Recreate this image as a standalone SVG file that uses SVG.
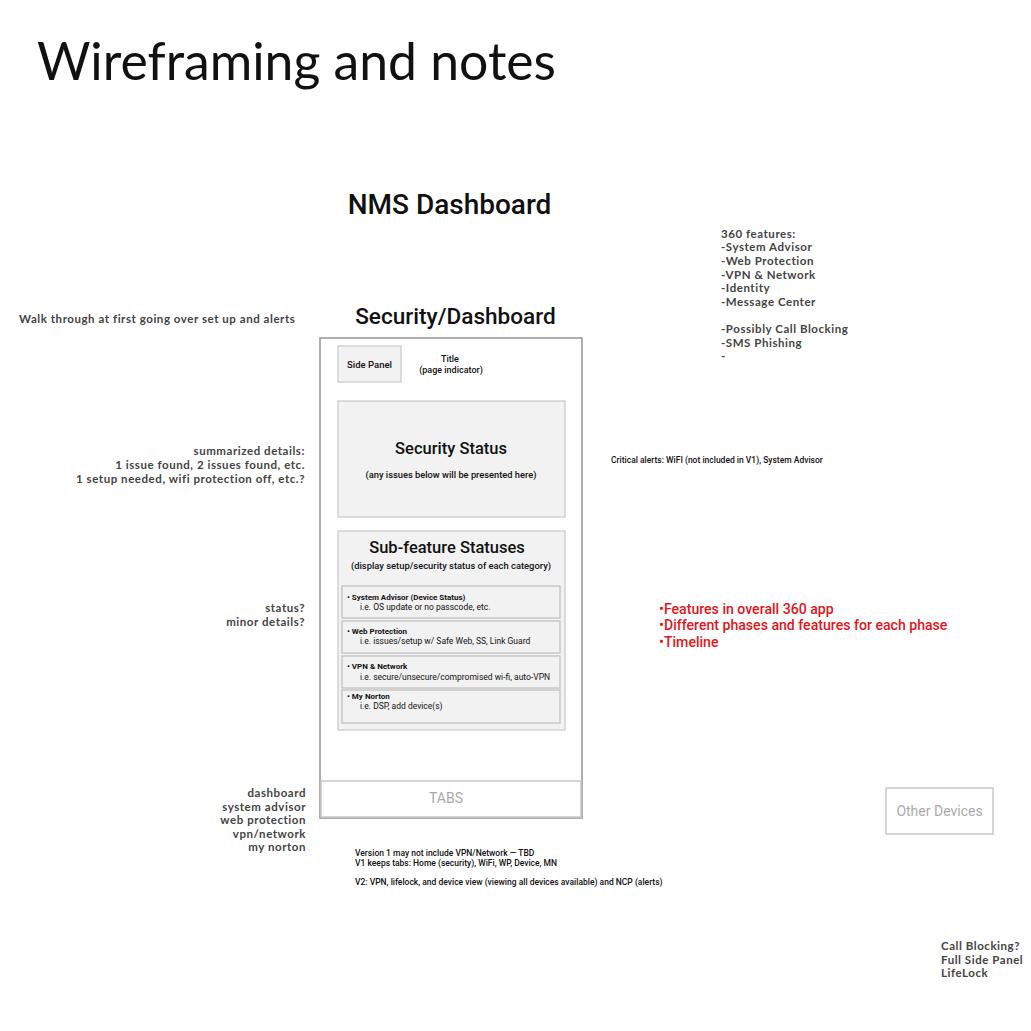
<svg xmlns="http://www.w3.org/2000/svg" width="1031" height="1031" viewBox="0 0 1031 1031">
<style>
.rb{font-family:Roboto,"Liberation Sans",sans-serif;fill:#111}
.note{font-family:Lato,"Liberation Sans",sans-serif;font-weight:700;font-size:11.5px;fill:#444;letter-spacing:0.55px}
.box{fill:#f2f2f2;stroke:#c8c8c8;stroke-width:1.2}
.item{fill:#f2f2f2;stroke:#c8c8c8;stroke-width:1.5}
.ib{font-family:Roboto,"Liberation Sans",sans-serif;font-weight:700;font-size:8px;fill:#111}
.it{font-family:Roboto,"Liberation Sans",sans-serif;font-size:8.5px;fill:#111}
.small{font-family:Roboto,"Liberation Sans",sans-serif;font-weight:500;font-size:8.5px;fill:#111}
.red{font-family:Roboto,"Liberation Sans",sans-serif;font-weight:500;font-size:14.1px;fill:#e0161c}
</style>
<rect width="1031" height="1031" fill="#ffffff"/>
<text x="37" y="80" font-family="Lato,'Liberation Sans',sans-serif" font-size="52" textLength="519" lengthAdjust="spacingAndGlyphs" fill="#111">Wireframing and notes</text>
<text x="449.5" y="214" text-anchor="middle" class="rb" font-size="28" font-weight="500">NMS Dashboard</text>
<text x="455.5" y="324" text-anchor="middle" class="rb" font-size="22.6" font-weight="500">Security/Dashboard</text>

<g id="phone">
<rect x="320" y="338" width="262" height="480" fill="#fff" stroke="#9a9a9a" stroke-width="1.6"/>
</g>
<g id="side-panel">
<rect x="338" y="346" width="63" height="36" class="box"/>
<text x="369.5" y="368" text-anchor="middle" class="rb" font-size="9.5" font-weight="500">Side Panel</text>
</g>
<g id="title">
<text x="450" y="362" text-anchor="middle" class="rb" font-size="9" font-weight="500">Title</text>
<text x="451" y="373" text-anchor="middle" class="rb" font-size="9" font-weight="500">(page indicator)</text>
</g>
<g id="security-status">
<rect x="338" y="401" width="227" height="116" class="box"/>
<text x="451" y="454" text-anchor="middle" class="rb" font-size="16.5" font-weight="500">Security Status</text>
<text x="451" y="478" text-anchor="middle" class="rb" font-size="9.3" font-weight="500">(any issues below will be presented here)</text>
</g>
<g id="sub-feature">
<rect x="338" y="531" width="227" height="199" class="box"/>
<text x="447" y="553" text-anchor="middle" class="rb" font-size="16.5" font-weight="500">Sub-feature Statuses</text>
<text x="451" y="569" text-anchor="middle" class="rb" font-size="9.4" font-weight="500">(display setup/security status of each category)</text>
</g>
<g id="item-system-advisor">
<rect x="342" y="586" width="218" height="32" class="item"/>
<text x="347" y="600" class="ib">• System Advisor (Device Status)</text>
<text x="360" y="610" class="it">i.e. OS update or no passcode, etc.</text>
</g>
<g id="item-web-protection">
<rect x="342" y="621" width="218" height="32" class="item"/>
<text x="347" y="634" class="ib">• Web Protection</text>
<text x="360" y="644" class="it">i.e. issues/setup w/ Safe Web, SS, Link Guard</text>
</g>
<g id="item-vpn">
<rect x="342" y="656" width="218" height="32" class="item"/>
<text x="347" y="669" class="ib">• VPN &amp; Network</text>
<text x="360" y="680" class="it">i.e. secure/unsecure/compromised wi-fi, auto-VPN</text>
</g>
<g id="item-my-norton">
<rect x="342" y="690" width="218" height="33" class="item"/>
<text x="347" y="699" class="ib">• My Norton</text>
<text x="360" y="709" class="it">i.e. DSP, add device(s)</text>
</g>
<g id="tabs">
<rect x="321" y="781" width="260" height="36" fill="#fff" stroke="#c8c8c8" stroke-width="1.5"/>
<text x="446" y="803" text-anchor="middle" font-family="Roboto,'Liberation Sans',sans-serif" font-size="14" fill="#aaa">TABS</text>
</g>
<g id="version-notes">
<text x="355" y="856" class="small">Version 1 may not include VPN/Network — TBD</text>
<text x="355" y="866" class="small">V1 keeps tabs: Home (security), WiFi, WP, Device, MN</text>
<text x="355" y="885" class="small">V2: VPN, lifelock, and device view (viewing all devices available) and NCP (alerts)</text>
</g>
<g id="left-notes">
<text x="19" y="323" class="note">Walk through at first going over set up and alerts</text>
<text x="305" y="455" text-anchor="end" class="note">summarized details:</text>
<text x="305" y="469" text-anchor="end" class="note">1 issue found,  2 issues found, etc.</text>
<text x="305" y="483" text-anchor="end" class="note">1 setup needed, wifi protection off, etc.?</text>
<text x="305" y="612" text-anchor="end" class="note">status?</text>
<text x="305" y="626" text-anchor="end" class="note">minor details?</text>
<text x="306" y="797" text-anchor="end" class="note">dashboard</text>
<text x="306" y="811" text-anchor="end" class="note">system advisor</text>
<text x="306" y="824" text-anchor="end" class="note">web protection</text>
<text x="306" y="838" text-anchor="end" class="note">vpn/network</text>
<text x="306" y="851" text-anchor="end" class="note">my norton</text>
</g>
<g id="features-360">
<text x="721" y="238" class="note">360 features:</text>
<text x="721" y="251" class="note">-System Advisor</text>
<text x="721" y="265" class="note">-Web Protection</text>
<text x="721" y="279" class="note">-VPN &amp; Network</text>
<text x="721" y="292" class="note">-Identity</text>
<text x="721" y="306" class="note">-Message Center</text>
<text x="721" y="333" class="note">-Possibly Call Blocking</text>
<text x="721" y="347" class="note">-SMS Phishing</text>
<text x="721" y="360" class="note">-</text>
</g>
<text x="611" y="463" class="small" font-size="8">Critical alerts: WiFI (not included in V1), System Advisor</text>
<g id="red-notes">
<text x="659" y="614" class="red">•Features in overall 360 app</text>
<text x="659" y="630" class="red">•Different phases and features for each phase</text>
<text x="659" y="647" class="red">•Timeline</text>
</g>
<g id="other-devices">
<rect x="886" y="788" width="107" height="46" fill="#fff" stroke="#c8c8c8" stroke-width="1.5"/>
<text x="939.5" y="816" text-anchor="middle" font-family="Roboto,'Liberation Sans',sans-serif" font-size="14" fill="#aaa">Other Devices</text>
</g>
<g id="bottom-notes">
<text x="941" y="950" class="note" fill="#333">Call Blocking?</text>
<text x="941" y="964" class="note">Full Side Panel</text>
<text x="941" y="977" class="note">LifeLock</text>
</g>
<g id="connectors"></g>
</svg>
